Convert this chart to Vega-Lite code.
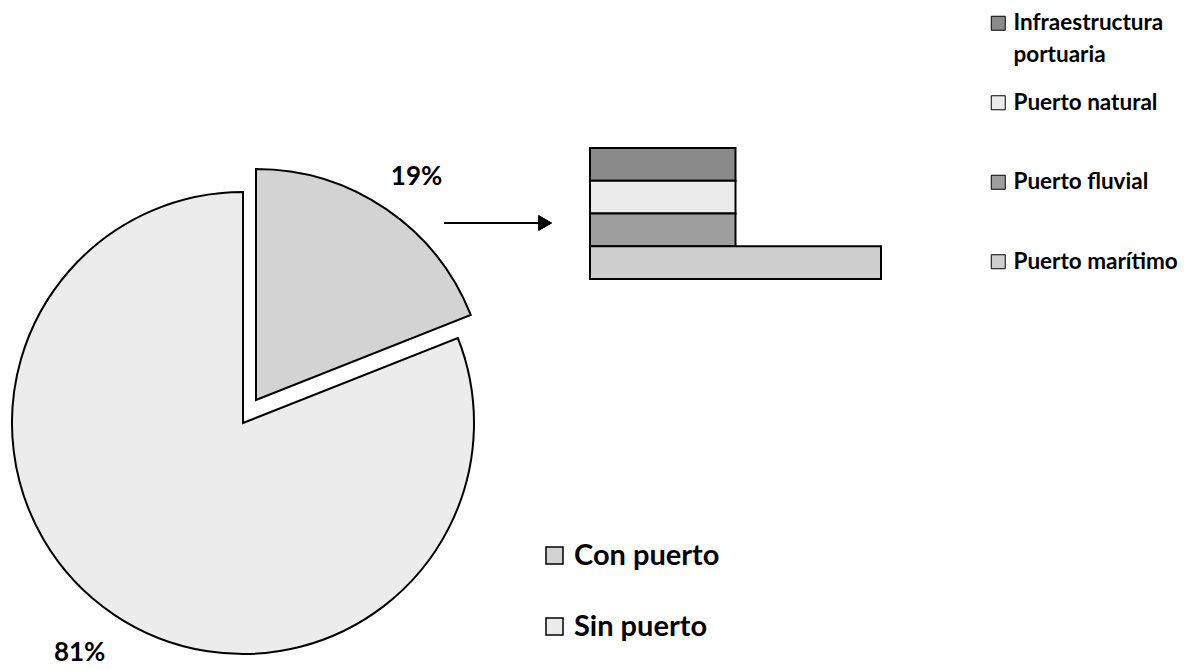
{
  "$schema": "https://vega.github.io/schema/vega-lite/v6.json",
  "padding": 0,
  "background": "white",
  "bounds": "flush",
  "spacing": 104,
  "config": {
    "view": {"stroke": null},
    "font": "Lato"
  },
  "datasets": {
    "pie": [
      {"grupo": "Con puerto", "valor": 19, "etiqueta": "19%"},
      {"grupo": "Sin puerto", "valor": 81, "etiqueta": "81%"}
    ],
    "tipos": [
      {"tipo": "Infraestructura portuaria", "valor": 3.8},
      {"tipo": "Puerto natural", "valor": 3.8},
      {"tipo": "Puerto fluvial", "valor": 3.8},
      {"tipo": "Puerto marítimo", "valor": 7.6}
    ]
  },
  "resolve": {"scale": {"color": "independent"}, "legend": {"color": "independent"}},
  "hconcat": [
    {
      "width": 486,
      "height": 670,
      "data": {"name": "pie"},
      "layer": [
        {
          "transform": [
            {"stack": "valor", "groupby": [], "as": ["t0", "t1"], "sort": [{"field": "grupo", "order": "ascending"}]},
            {"filter": "datum.grupo === 'Sin puerto'"}
          ],
          "mark": {"type": "arc", "radius": 231, "stroke": "black", "strokeWidth": 2, "strokeJoin": "miter", "yOffset": 88},
          "encoding": {
            "theta": {"field": "t0", "type": "quantitative", "scale": {"domain": [0, 100]}},
            "theta2": {"field": "t1"},
            "color": {
              "field": "grupo", "type": "nominal",
              "scale": {"domain": ["Con puerto", "Sin puerto"], "range": ["#d3d3d3", "#ececec"]},
              "legend": {
                "title": null, "orient": "none", "legendX": 540, "legendY": 541, "padding": 0,
                "symbolType": "square", "symbolSize": 289, "symbolStrokeColor": "black", "symbolStrokeWidth": 1.5,
                "labelFont": "Lato", "labelFontWeight": "bold", "labelFontSize": 29, "labelColor": "black",
                "labelOffset": 5, "labelLimit": 400, "rowPadding": 41
              }
            }
          }
        },
        {
          "transform": [
            {"stack": "valor", "groupby": [], "as": ["t0", "t1"], "sort": [{"field": "grupo", "order": "ascending"}]},
            {"filter": "datum.grupo === 'Con puerto'"}
          ],
          "mark": {"type": "arc", "radius": 231, "stroke": "black", "strokeWidth": 2, "strokeJoin": "miter", "xOffset": 13, "yOffset": 65},
          "encoding": {
            "theta": {"field": "t0", "type": "quantitative", "scale": {"domain": [0, 100]}},
            "theta2": {"field": "t1"},
            "color": {"field": "grupo", "type": "nominal"}
          }
        },
        {
          "mark": {"type": "text", "radius": 275, "font": "Lato", "fontWeight": "bold", "fontSize": 26, "color": "black", "align": "center", "baseline": "middle", "xOffset": 19, "yOffset": 69},
          "encoding": {
            "theta": {"field": "valor", "type": "quantitative", "stack": true},
            "order": {"field": "grupo", "type": "ordinal", "sort": "ascending"},
            "text": {"condition": {"test": "datum.grupo === 'Con puerto'", "field": "etiqueta"}, "value": ""}
          }
        },
        {
          "mark": {"type": "text", "radius": 280, "font": "Lato", "fontWeight": "bold", "fontSize": 26, "color": "black", "align": "center", "baseline": "middle", "xOffset": -6, "yOffset": 86},
          "encoding": {
            "theta": {"field": "valor", "type": "quantitative", "stack": true},
            "order": {"field": "grupo", "type": "ordinal", "sort": "ascending"},
            "text": {"condition": {"test": "datum.grupo === 'Sin puerto'", "field": "etiqueta"}, "value": ""}
          }
        }
      ]
    },
    {
      "width": 291,
      "height": 280,
      "data": {"name": "tipos"},
      "layer": [
        {
          "mark": {"type": "bar", "stroke": "black", "strokeWidth": 2},
          "encoding": {
            "y": {
              "field": "tipo", "type": "nominal", "axis": null,
              "sort": ["Infraestructura portuaria", "Puerto natural", "Puerto fluvial", "Puerto marítimo"],
              "scale": {"paddingInner": 0, "paddingOuter": 0, "range": [148, 279]}
            },
            "x": {"field": "valor", "type": "quantitative", "axis": null, "scale": {"domain": [0, 7.6], "nice": false, "zero": true}},
            "color": {
              "field": "tipo", "type": "nominal",
              "scale": {
                "domain": ["Infraestructura portuaria", "Puerto natural", "Puerto fluvial", "Puerto marítimo"],
                "range": ["#8a8a8a", "#ebebeb", "#9e9e9e", "#cfcfcf"]
              },
              "legend": {
                "title": null, "orient": "none", "legendX": 397, "legendY": 12, "padding": 0,
                "symbolType": "square", "symbolSize": 196, "symbolStrokeColor": "black", "symbolStrokeWidth": 1,
                "labelFont": "Lato", "labelFontWeight": "bold", "labelFontSize": 22.5, "labelColor": "black",
                "labelOffset": 4, "labelLimit": 400, "rowPadding": 24.5, "gridAlign": "all",
                "labelExpr": "datum.label === 'Infraestructura portuaria' ? ['Infraestructura', 'portuaria'] : datum.label",
                "encode": {"labels": {"update": {"lineHeight": {"value": 32}}}}
              }
            }
          }
        },
        {
          "mark": {"type": "rule", "color": "black", "strokeWidth": 2},
          "encoding": {
            "x": {"datum": -3.8, "type": "quantitative"},
            "x2": {"datum": -1.17},
            "y": {"datum": "Puerto fluvial", "type": "nominal", "bandPosition": 0.29}
          }
        },
        {
          "mark": {"type": "point", "shape": "triangle-right", "filled": true, "color": "black", "size": 240, "opacity": 1},
          "encoding": {
            "x": {"datum": -1.17, "type": "quantitative"},
            "y": {"datum": "Puerto fluvial", "type": "nominal", "bandPosition": 0.29}
          }
        }
      ]
    }
  ]
}
